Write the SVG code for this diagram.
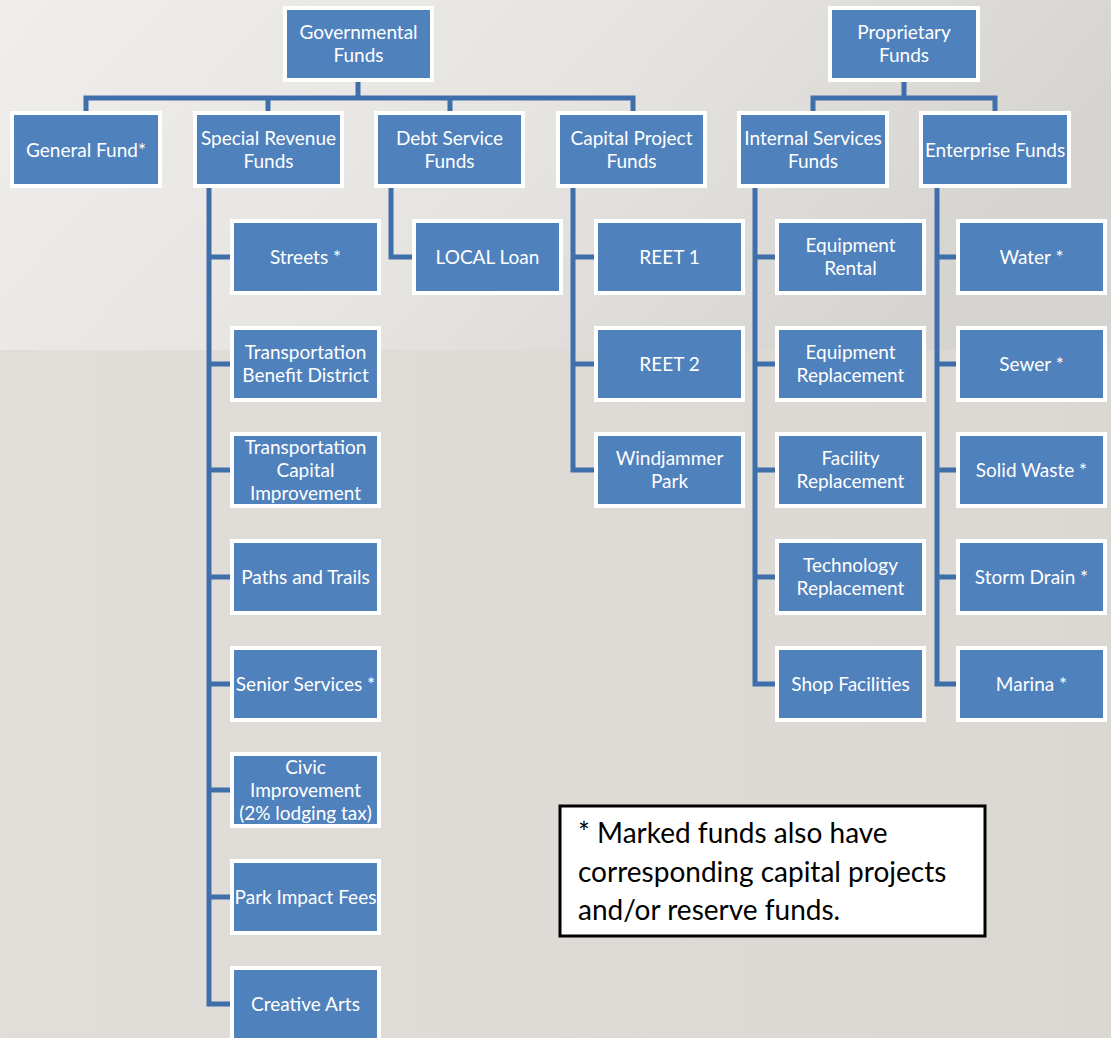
<svg xmlns="http://www.w3.org/2000/svg" width="1111" height="1038" viewBox="0 0 1111 1038">
<defs>
<linearGradient id="bgTop" x1="0" y1="0" x2="1" y2="0.3">
<stop offset="0" stop-color="#efeeec"/>
<stop offset="0.55" stop-color="#e6e4e1"/>
<stop offset="1" stop-color="#d6d4d1"/>
</linearGradient>
<linearGradient id="bgBot" x1="0" y1="0" x2="1" y2="0">
<stop offset="0" stop-color="#e1ded9"/>
<stop offset="1" stop-color="#dbd8d3"/>
</linearGradient>
</defs>
<style>
.box{fill:#4f81bd;stroke:#ffffff;stroke-width:4}
.t{font-family:Lato,"Liberation Sans",sans-serif;font-size:19px;fill:#ffffff;text-anchor:middle}
.c{fill:none;stroke:#3f6fab;stroke-width:5}
.note{font-family:Lato,"Open Sans",sans-serif;font-size:28px;fill:#000000}
</style>
<rect x="0" y="0" width="1111" height="350" fill="url(#bgTop)"/>
<rect x="0" y="350" width="1111" height="688" fill="url(#bgBot)"/>

<g id="connectors">
<path class="c" d="M358 80V98M86 116V98H633V116M268 98V116M450 98V116"/>
<path class="c" d="M904 80V98M813 116V98H995V116"/>
<path class="c" d="M209 186V1004H232M209 257H232M209 364H232M209 470H232M209 577H232M209 684H232M209 790H232M209 897H232"/>
<path class="c" d="M391 186V257H414"/>
<path class="c" d="M573 186V470H596M573 257H596M573 364H596"/>
<path class="c" d="M755 186V684H777M755 257H777M755 364H777M755 470H777M755 577H777"/>
<path class="c" d="M937 186V684H958M937 257H958M937 364H958M937 470H958M937 577H958"/>
</g>

<g id="governmental">
<rect class="box" x="285" y="8" width="147" height="72"/>
<text class="t" x="358.5" y="39">Governmental</text><text class="t" x="358.5" y="62">Funds</text>
</g>
<g id="proprietary">
<rect class="box" x="830" y="8" width="148" height="72"/>
<text class="t" x="904" y="39">Proprietary</text><text class="t" x="904" y="62">Funds</text>
</g>

<g id="general">
<rect class="box" x="12" y="113" width="148" height="73"/>
<text class="t" x="86" y="157">General Fund*</text>
</g>
<g id="special">
<rect class="box" x="195" y="113" width="147" height="73"/>
<text class="t" x="268.5" y="145">Special Revenue</text><text class="t" x="268.5" y="168">Funds</text>
</g>
<g id="debt">
<rect class="box" x="376" y="113" width="147" height="73"/>
<text class="t" x="449.5" y="145">Debt Service</text><text class="t" x="449.5" y="168">Funds</text>
</g>
<g id="capital">
<rect class="box" x="558" y="113" width="147" height="73"/>
<text class="t" x="631.5" y="145">Capital Project</text><text class="t" x="631.5" y="168">Funds</text>
</g>
<g id="internal">
<rect class="box" x="739" y="113" width="148" height="73"/>
<text class="t" x="813" y="145">Internal Services</text><text class="t" x="813" y="168">Funds</text>
</g>
<g id="enterprise">
<rect class="box" x="921" y="113" width="148" height="73"/>
<text class="t" x="995" y="157">Enterprise Funds</text>
</g>

<g id="streets"><rect class="box" x="232" y="221" width="147" height="72"/><text class="t" x="305.5" y="264">Streets *</text></g>
<g id="tbd"><rect class="box" x="232" y="328" width="147" height="72"/><text class="t" x="305.5" y="359">Transportation</text><text class="t" x="305.5" y="382">Benefit District</text></g>
<g id="tci"><rect class="box" x="232" y="434" width="147" height="72"/><text class="t" x="305.5" y="454">Transportation</text><text class="t" x="305.5" y="477">Capital</text><text class="t" x="305.5" y="500">Improvement</text></g>
<g id="paths"><rect class="box" x="232" y="541" width="147" height="72"/><text class="t" x="305.5" y="584">Paths and Trails</text></g>
<g id="senior"><rect class="box" x="232" y="648" width="147" height="72"/><text class="t" x="305.5" y="691">Senior Services *</text></g>
<g id="civic"><rect class="box" x="232" y="754" width="147" height="72"/><text class="t" x="305.5" y="774">Civic</text><text class="t" x="305.5" y="797">Improvement</text><text class="t" x="305.5" y="820">(2% lodging tax)</text></g>
<g id="park"><rect class="box" x="232" y="861" width="147" height="72"/><text class="t" x="305.5" y="904">Park Impact Fees</text></g>
<g id="arts"><rect class="box" x="232" y="968" width="147" height="72"/><text class="t" x="305.5" y="1011">Creative Arts</text></g>

<g id="local"><rect class="box" x="414" y="221" width="147" height="72"/><text class="t" x="487.5" y="264">LOCAL Loan</text></g>

<g id="reet1"><rect class="box" x="596" y="221" width="147" height="72"/><text class="t" x="669.5" y="264">REET 1</text></g>
<g id="reet2"><rect class="box" x="596" y="328" width="147" height="72"/><text class="t" x="669.5" y="371">REET 2</text></g>
<g id="windjammer"><rect class="box" x="596" y="434" width="147" height="72"/><text class="t" x="669.5" y="465">Windjammer</text><text class="t" x="669.5" y="488">Park</text></g>

<g id="eqrental"><rect class="box" x="777" y="221" width="147" height="72"/><text class="t" x="850.5" y="252">Equipment</text><text class="t" x="850.5" y="275">Rental</text></g>
<g id="eqrepl"><rect class="box" x="777" y="328" width="147" height="72"/><text class="t" x="850.5" y="359">Equipment</text><text class="t" x="850.5" y="382">Replacement</text></g>
<g id="facility"><rect class="box" x="777" y="434" width="147" height="72"/><text class="t" x="850.5" y="465">Facility</text><text class="t" x="850.5" y="488">Replacement</text></g>
<g id="tech"><rect class="box" x="777" y="541" width="147" height="72"/><text class="t" x="850.5" y="572">Technology</text><text class="t" x="850.5" y="595">Replacement</text></g>
<g id="shop"><rect class="box" x="777" y="648" width="147" height="72"/><text class="t" x="850.5" y="691">Shop Facilities</text></g>

<g id="water"><rect class="box" x="958" y="221" width="147" height="72"/><text class="t" x="1031.5" y="264">Water *</text></g>
<g id="sewer"><rect class="box" x="958" y="328" width="147" height="72"/><text class="t" x="1031.5" y="371">Sewer *</text></g>
<g id="solid"><rect class="box" x="958" y="434" width="147" height="72"/><text class="t" x="1031.5" y="477">Solid Waste *</text></g>
<g id="storm"><rect class="box" x="958" y="541" width="147" height="72"/><text class="t" x="1031.5" y="584">Storm Drain *</text></g>
<g id="marina"><rect class="box" x="958" y="648" width="147" height="72"/><text class="t" x="1031.5" y="691">Marina *</text></g>

<g id="note">
<rect x="560" y="806" width="425" height="130" fill="#ffffff" stroke="#000000" stroke-width="3"/>
<text class="note" x="578" y="843">* Marked funds also have</text>
<text class="note" x="578" y="882">corresponding capital projects</text>
<text class="note" x="578" y="920">and/or reserve funds.</text>
</g>
</svg>
